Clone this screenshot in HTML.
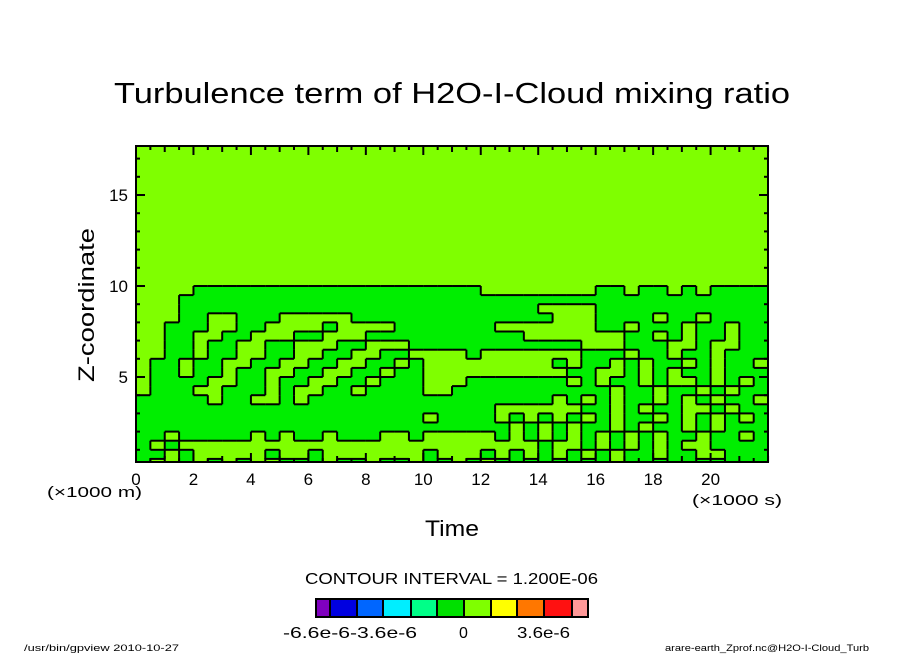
<!DOCTYPE html>
<html><head><meta charset="utf-8"><style>
html,body{margin:0;padding:0;background:#fff;}
svg{display:block;font-family:"Liberation Sans",sans-serif;}
</style></head><body>
<svg id="chart" width="904" height="654" viewBox="0 0 904 654">
<defs><clipPath id="pc"><rect x="136" y="146" width="632" height="316"/></clipPath></defs>
<text x="114" y="103" font-size="29" textLength="676" lengthAdjust="spacingAndGlyphs">Turbulence term of H2O-I-Cloud mixing ratio</text>
<rect x="136" y="146" width="632" height="316" fill="#7fff00"/>
<g id="cells" clip-path="url(#pc)"></g>
<g id="lines" clip-path="url(#pc)"></g>
<rect x="136" y="146" width="632" height="316" fill="none" stroke="#000" stroke-width="2"/>
<g id="ticks"></g>
<text transform="translate(94,382) rotate(-90)" font-size="22" textLength="154" lengthAdjust="spacingAndGlyphs">Z-coordinate</text>
<text x="47" y="497" font-size="15" textLength="95" lengthAdjust="spacingAndGlyphs">(×1000 m)</text>
<text x="692" y="505" font-size="15" textLength="90" lengthAdjust="spacingAndGlyphs">(×1000 s)</text>
<text x="425" y="536" font-size="22" textLength="54" lengthAdjust="spacingAndGlyphs">Time</text>
<text x="305" y="584" font-size="16" textLength="293" lengthAdjust="spacingAndGlyphs">CONTOUR INTERVAL = 1.200E-06</text>
<g id="colorbar"></g>
<text x="283" y="638" font-size="16" textLength="134" lengthAdjust="spacingAndGlyphs">-6.6e-6-3.6e-6</text>
<text x="459" y="638" font-size="16">0</text>
<text x="517" y="638" font-size="16" textLength="53" lengthAdjust="spacingAndGlyphs">3.6e-6</text>
<text x="24" y="651" font-size="9" textLength="155" lengthAdjust="spacingAndGlyphs">/usr/bin/gpview  2010-10-27</text>
<text x="665" y="651" font-size="9" textLength="204" lengthAdjust="spacingAndGlyphs">arare-earth_Zprof.nc@H2O-I-Cloud_Turb</text>
</svg>
<script>
// grid values: 'G' = negative (green) band, '.' = near-zero (lime) band
const zTop = 10.0;
const dz = 0.5;
const dt = 0.5;
const gridRows = [
"....GGGGGGGGGGGGGGGGGGGG........GG.GG.G.GGGG",
"...GGGGGGGGGGGGGGGGGGGGGGGGGGGGGGGGGGGGGGGGG",
"...GGGGGGGGGGGGGGGGGGGGGGGGG....GGGGGGGGGGGG",
"...GG..GGG.....GGGGGGGGGGGGGG...GGGG.GG.GGGG",
"..GGG..GG....G....GGGGGGG.......GG.GGG.GG.GG",
"..GG..GG...GG...GGGGGGGGGGG.......GG.G.GG.GG",
"..GG.GG..GG...GG...GGGGGGGGGGGG...GGG..G..GG",
"..GG.GG..GG..GG..GG....G.......GGG.GG.GG.GGG",
".GG.GG..GG..GG..GG.G.........G.GG.G.GG.G.GG.",
".GG.GG.GG..GG..GG.GG..........GG..G.G.GG.GGG",
".GGGG..GG.GG..GG.GGG...GGGGGGG.G.GG.G..G.G.G",
".GGG..GGG.G..GG.GGGG..GGGGGGGGGGG.GG.GG.G.GG",
"GGGGG.GG..G.GGGGGGGGGGGGGGGGG.G.G.GG.G.G.GG.",
"GGGGGGGGGGGGGGGGGGGGGGGGG......GG.G.GG..G.GG",
"GGGGGGGGGGGGGGGGGGGG.GGGG.G.G.G.G.GG.G.G.G.G",
"GGGGGGGGGGGGGGGGGGGGGGGGGG.G.G.GG.G.GG.G.GGG",
"GG.GGGGG.G.GG.GGG..G.....G.G.G.G.G.G.GG.GG.G",
"G.G.........................G..G.G.G.G..GGGG",
"GG.G.....G..G.......G...G.G.G.G.G.GG.GG..GGG",
"G..G.G.G..GGG.GG.GG.GG.G.GGGGGGGG.GGGGGGGGGG"
];
const xTicksMajor = [0,2,4,6,8,10,12,14,16,18,20];
const yTicksMajor = [5,10,15];
const cbColors = ["#7f00bf","#0000e0","#0066ff","#00eeff","#00ff88","#00e000","#7fff00","#ffff00","#ff7700","#ff1111","#ff9999"];
const cbEdges = [316,330,357,383,411,437,464,491,517,544,572,588];

const NS = "http://www.w3.org/2000/svg";
function xS(t){ return 136 + t*28.73; }
function yS(z){ return 286 - (z-10)*18.2; }
function mk(tag, attrs, parent){
  const e = document.createElementNS(NS, tag);
  for (const k in attrs) e.setAttribute(k, attrs[k]);
  parent.appendChild(e); return e;
}
const cells = document.getElementById('cells');
const lines = document.getElementById('lines');
const nc = 44;
const val = (r,c) => (r<0||r>=gridRows.length||c<0||c>=nc) ? null : ((gridRows[r][c]||'.')==='G');
for (let r=0;r<gridRows.length;r++){
  for (let c=0;c<nc;c++){
    const z1 = zTop - r*dz, z0 = z1 - dz, t0 = c*dt, t1 = t0+dt;
    const v = val(r,c);
    if (v){
      const e = mk('rect',{x:xS(t0),y:yS(z1),width:xS(t1)-xS(t0)+0.5,height:yS(z0)-yS(z1)+0.5,fill:'#00ee00'},cells);
      
      
    }
    const vr = val(r,c+1);
    if (vr!==null && vr!==v){
      const l = mk('line',{x1:xS(t1),y1:yS(z1),x2:xS(t1),y2:yS(z0),stroke:'#000','stroke-width':2},lines);
      
      
    }
    const top = (r===0) ? false : val(r-1,c);
    if (top!==v){
      const l = mk('line',{x1:xS(t0),y1:yS(z1),x2:xS(t1),y2:yS(z1),stroke:'#000','stroke-width':2},lines);
      
      
    }
  }
}
const ticks = document.getElementById('ticks');
for (let t=0;t<=22;t+=0.5){
  const maj = xTicksMajor.includes(t);
  const len = maj?9:(Number.isInteger(t)?6:4);
  const x = xS(t);
  const a = mk('line',{x1:x,y1:462,x2:x,y2:462-len,stroke:'#000','stroke-width':2},ticks);
  
  
  const b = mk('line',{x1:x,y1:146,x2:x,y2:146+len,stroke:'#000','stroke-width':2},ticks);
  
  
}
xTicksMajor.forEach(t=>{
  const e = mk('text',{x:xS(t),y:485,'font-size':17,'text-anchor':'middle'},ticks);
  e.textContent = t;
  
  
});
for (let z=1;z<=17;z++){
  const maj = yTicksMajor.includes(z);
  const len = maj?9:4;
  const y = yS(z);
  const a = mk('line',{x1:136,y1:y,x2:136+len,y2:y,stroke:'#000','stroke-width':2},ticks);
  
  
  const b = mk('line',{x1:768,y1:y,x2:768-len,y2:y,stroke:'#000','stroke-width':2},ticks);
  
  
}
yTicksMajor.forEach(z=>{
  const e = mk('text',{x:128,y:yS(z)+6,'font-size':17,'text-anchor':'end'},ticks);
  e.textContent = z;
  
  
});
const cb = document.getElementById('colorbar');
cbColors.forEach((col,i)=>{
  const e = mk('rect',{x:cbEdges[i],y:599,width:cbEdges[i+1]-cbEdges[i],height:18,fill:col,stroke:'#000','stroke-width':2},cb);
  
  
});
</script>
</body></html>
